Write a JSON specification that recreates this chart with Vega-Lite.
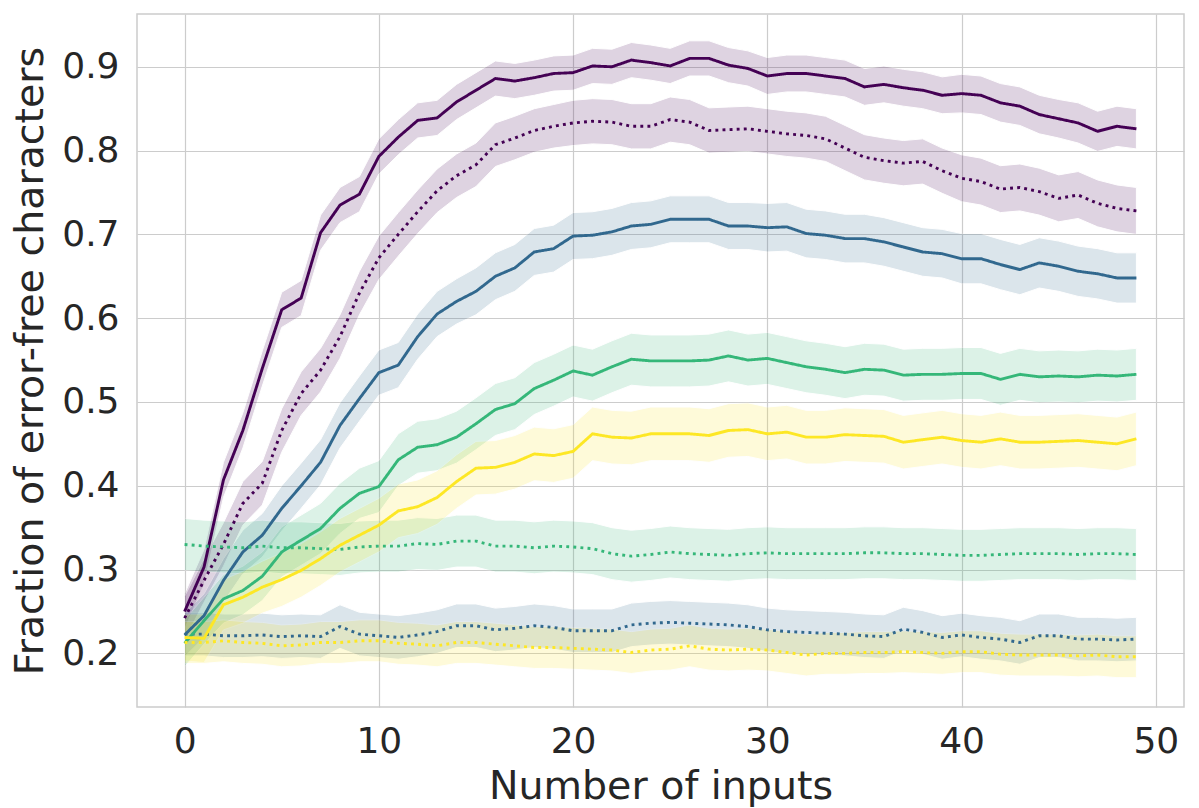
{
  "$schema": "https://vega.github.io/schema/vega-lite/v6.json",
  "autosize": {"type": "none"},
  "padding": {"left": 137, "top": 14, "right": 15, "bottom": 101},
  "width": 1047,
  "height": 693,
  "background": "white",
  "config": {
    "font": "DejaVu Sans",
    "view": {"stroke": "#cccccc", "strokeWidth": 1.5},
    "axis": {
      "grid": true, "gridColor": "#cccccc", "gridWidth": 1.2,
      "domain": false, "ticks": false,
      "labelColor": "#262626", "labelFontSize": 36, "labelFont": "DejaVu Sans",
      "titleColor": "#262626", "titleFontSize": 39.5, "titleFontWeight": "normal", "titleFont": "DejaVu Sans"
    }
  },
  "datasets": {
    "rows": [
      {"g":"1","d":"solid","e":0.021,"x":0,"y":0.250},{"g":"1","d":"solid","e":0.021,"x":1,"y":0.303},{"g":"1","d":"solid","e":0.021,"x":2,"y":0.407},{"g":"1","d":"solid","e":0.021,"x":3,"y":0.466},{"g":"1","d":"solid","e":0.021,"x":4,"y":0.540},{"g":"1","d":"solid","e":0.021,"x":5,"y":0.610},{"g":"1","d":"solid","e":0.021,"x":6,"y":0.624},{"g":"1","d":"solid","e":0.021,"x":7,"y":0.702},{"g":"1","d":"solid","e":0.021,"x":8,"y":0.735},{"g":"1","d":"solid","e":0.021,"x":9,"y":0.748},
      {"g":"1","d":"solid","e":0.021,"x":10,"y":0.793},{"g":"1","d":"solid","e":0.021,"x":11,"y":0.816},{"g":"1","d":"solid","e":0.021,"x":12,"y":0.836},{"g":"1","d":"solid","e":0.021,"x":13,"y":0.839},{"g":"1","d":"solid","e":0.021,"x":14,"y":0.858},{"g":"1","d":"solid","e":0.021,"x":15,"y":0.872},{"g":"1","d":"solid","e":0.021,"x":16,"y":0.886},{"g":"1","d":"solid","e":0.021,"x":17,"y":0.883},{"g":"1","d":"solid","e":0.021,"x":18,"y":0.887},{"g":"1","d":"solid","e":0.021,"x":19,"y":0.892},
      {"g":"1","d":"solid","e":0.021,"x":20,"y":0.893},{"g":"1","d":"solid","e":0.021,"x":21,"y":0.901},{"g":"1","d":"solid","e":0.021,"x":22,"y":0.900},{"g":"1","d":"solid","e":0.021,"x":23,"y":0.908},{"g":"1","d":"solid","e":0.021,"x":24,"y":0.905},{"g":"1","d":"solid","e":0.021,"x":25,"y":0.901},{"g":"1","d":"solid","e":0.021,"x":26,"y":0.910},{"g":"1","d":"solid","e":0.021,"x":27,"y":0.910},{"g":"1","d":"solid","e":0.021,"x":28,"y":0.902},{"g":"1","d":"solid","e":0.021,"x":29,"y":0.898},
      {"g":"1","d":"solid","e":0.022,"x":30,"y":0.889},{"g":"1","d":"solid","e":0.022,"x":31,"y":0.892},{"g":"1","d":"solid","e":0.022,"x":32,"y":0.892},{"g":"1","d":"solid","e":0.022,"x":33,"y":0.889},{"g":"1","d":"solid","e":0.022,"x":34,"y":0.886},{"g":"1","d":"solid","e":0.022,"x":35,"y":0.876},{"g":"1","d":"solid","e":0.022,"x":36,"y":0.879},{"g":"1","d":"solid","e":0.022,"x":37,"y":0.875},{"g":"1","d":"solid","e":0.022,"x":38,"y":0.872},{"g":"1","d":"solid","e":0.022,"x":39,"y":0.866},
      {"g":"1","d":"solid","e":0.023,"x":40,"y":0.868},{"g":"1","d":"solid","e":0.023,"x":41,"y":0.866},{"g":"1","d":"solid","e":0.023,"x":42,"y":0.857},{"g":"1","d":"solid","e":0.023,"x":43,"y":0.853},{"g":"1","d":"solid","e":0.023,"x":44,"y":0.843},{"g":"1","d":"solid","e":0.023,"x":45,"y":0.838},{"g":"1","d":"solid","e":0.024,"x":46,"y":0.833},{"g":"1","d":"solid","e":0.024,"x":47,"y":0.823},{"g":"1","d":"solid","e":0.024,"x":48,"y":0.829},{"g":"1","d":"solid","e":0.024,"x":49,"y":0.826},

      {"g":"1","d":"dotted","e":0.026,"x":0,"y":0.242},{"g":"1","d":"dotted","e":0.026,"x":1,"y":0.287},{"g":"1","d":"dotted","e":0.026,"x":2,"y":0.330},{"g":"1","d":"dotted","e":0.026,"x":3,"y":0.379},{"g":"1","d":"dotted","e":0.026,"x":4,"y":0.403},{"g":"1","d":"dotted","e":0.026,"x":5,"y":0.466},{"g":"1","d":"dotted","e":0.026,"x":6,"y":0.510},{"g":"1","d":"dotted","e":0.026,"x":7,"y":0.538},{"g":"1","d":"dotted","e":0.026,"x":8,"y":0.578},{"g":"1","d":"dotted","e":0.026,"x":9,"y":0.630},
      {"g":"1","d":"dotted","e":0.026,"x":10,"y":0.672},{"g":"1","d":"dotted","e":0.026,"x":11,"y":0.700},{"g":"1","d":"dotted","e":0.026,"x":12,"y":0.727},{"g":"1","d":"dotted","e":0.026,"x":13,"y":0.752},{"g":"1","d":"dotted","e":0.026,"x":14,"y":0.770},{"g":"1","d":"dotted","e":0.026,"x":15,"y":0.783},{"g":"1","d":"dotted","e":0.026,"x":16,"y":0.807},{"g":"1","d":"dotted","e":0.026,"x":17,"y":0.815},{"g":"1","d":"dotted","e":0.026,"x":18,"y":0.824},{"g":"1","d":"dotted","e":0.026,"x":19,"y":0.829},
      {"g":"1","d":"dotted","e":0.027,"x":20,"y":0.833},{"g":"1","d":"dotted","e":0.027,"x":21,"y":0.835},{"g":"1","d":"dotted","e":0.027,"x":22,"y":0.834},{"g":"1","d":"dotted","e":0.027,"x":23,"y":0.829},{"g":"1","d":"dotted","e":0.027,"x":24,"y":0.829},{"g":"1","d":"dotted","e":0.027,"x":25,"y":0.837},{"g":"1","d":"dotted","e":0.027,"x":26,"y":0.834},{"g":"1","d":"dotted","e":0.027,"x":27,"y":0.824},{"g":"1","d":"dotted","e":0.027,"x":28,"y":0.825},{"g":"1","d":"dotted","e":0.027,"x":29,"y":0.826},
      {"g":"1","d":"dotted","e":0.027,"x":30,"y":0.823},{"g":"1","d":"dotted","e":0.027,"x":31,"y":0.820},{"g":"1","d":"dotted","e":0.027,"x":32,"y":0.818},{"g":"1","d":"dotted","e":0.027,"x":33,"y":0.814},{"g":"1","d":"dotted","e":0.027,"x":34,"y":0.803},{"g":"1","d":"dotted","e":0.027,"x":35,"y":0.792},{"g":"1","d":"dotted","e":0.027,"x":36,"y":0.788},{"g":"1","d":"dotted","e":0.027,"x":37,"y":0.785},{"g":"1","d":"dotted","e":0.027,"x":38,"y":0.787},{"g":"1","d":"dotted","e":0.027,"x":39,"y":0.776},
      {"g":"1","d":"dotted","e":0.028,"x":40,"y":0.767},{"g":"1","d":"dotted","e":0.028,"x":41,"y":0.763},{"g":"1","d":"dotted","e":0.028,"x":42,"y":0.754},{"g":"1","d":"dotted","e":0.028,"x":43,"y":0.756},{"g":"1","d":"dotted","e":0.028,"x":44,"y":0.751},{"g":"1","d":"dotted","e":0.028,"x":45,"y":0.743},{"g":"1","d":"dotted","e":0.028,"x":46,"y":0.747},{"g":"1","d":"dotted","e":0.028,"x":47,"y":0.737},{"g":"1","d":"dotted","e":0.028,"x":48,"y":0.731},{"g":"1","d":"dotted","e":0.028,"x":49,"y":0.728},

      {"g":"2","d":"solid","e":0.026,"x":0,"y":0.222},{"g":"2","d":"solid","e":0.026,"x":1,"y":0.245},{"g":"2","d":"solid","e":0.026,"x":2,"y":0.287},{"g":"2","d":"solid","e":0.026,"x":3,"y":0.321},{"g":"2","d":"solid","e":0.026,"x":4,"y":0.341},{"g":"2","d":"solid","e":0.027,"x":5,"y":0.373},{"g":"2","d":"solid","e":0.027,"x":6,"y":0.400},{"g":"2","d":"solid","e":0.027,"x":7,"y":0.428},{"g":"2","d":"solid","e":0.027,"x":8,"y":0.472},{"g":"2","d":"solid","e":0.027,"x":9,"y":0.504},
      {"g":"2","d":"solid","e":0.027,"x":10,"y":0.535},{"g":"2","d":"solid","e":0.027,"x":11,"y":0.544},{"g":"2","d":"solid","e":0.027,"x":12,"y":0.578},{"g":"2","d":"solid","e":0.027,"x":13,"y":0.605},{"g":"2","d":"solid","e":0.027,"x":14,"y":0.620},{"g":"2","d":"solid","e":0.028,"x":15,"y":0.632},{"g":"2","d":"solid","e":0.028,"x":16,"y":0.650},{"g":"2","d":"solid","e":0.028,"x":17,"y":0.660},{"g":"2","d":"solid","e":0.028,"x":18,"y":0.679},{"g":"2","d":"solid","e":0.028,"x":19,"y":0.683},
      {"g":"2","d":"solid","e":0.028,"x":20,"y":0.698},{"g":"2","d":"solid","e":0.028,"x":21,"y":0.699},{"g":"2","d":"solid","e":0.028,"x":22,"y":0.703},{"g":"2","d":"solid","e":0.028,"x":23,"y":0.710},{"g":"2","d":"solid","e":0.028,"x":24,"y":0.712},{"g":"2","d":"solid","e":0.028,"x":25,"y":0.718},{"g":"2","d":"solid","e":0.028,"x":26,"y":0.718},{"g":"2","d":"solid","e":0.028,"x":27,"y":0.718},{"g":"2","d":"solid","e":0.028,"x":28,"y":0.710},{"g":"2","d":"solid","e":0.028,"x":29,"y":0.710},
      {"g":"2","d":"solid","e":0.029,"x":30,"y":0.708},{"g":"2","d":"solid","e":0.029,"x":31,"y":0.709},{"g":"2","d":"solid","e":0.029,"x":32,"y":0.701},{"g":"2","d":"solid","e":0.029,"x":33,"y":0.699},{"g":"2","d":"solid","e":0.029,"x":34,"y":0.695},{"g":"2","d":"solid","e":0.029,"x":35,"y":0.695},{"g":"2","d":"solid","e":0.029,"x":36,"y":0.691},{"g":"2","d":"solid","e":0.029,"x":37,"y":0.685},{"g":"2","d":"solid","e":0.029,"x":38,"y":0.679},{"g":"2","d":"solid","e":0.029,"x":39,"y":0.677},
      {"g":"2","d":"solid","e":0.030,"x":40,"y":0.671},{"g":"2","d":"solid","e":0.030,"x":41,"y":0.671},{"g":"2","d":"solid","e":0.030,"x":42,"y":0.664},{"g":"2","d":"solid","e":0.030,"x":43,"y":0.658},{"g":"2","d":"solid","e":0.030,"x":44,"y":0.666},{"g":"2","d":"solid","e":0.030,"x":45,"y":0.662},{"g":"2","d":"solid","e":0.030,"x":46,"y":0.656},{"g":"2","d":"solid","e":0.030,"x":47,"y":0.653},{"g":"2","d":"solid","e":0.030,"x":48,"y":0.648},{"g":"2","d":"solid","e":0.030,"x":49,"y":0.648},

      {"g":"2","d":"dotted","e":0.026,"x":0,"y":0.223},{"g":"2","d":"dotted","e":0.026,"x":1,"y":0.223},{"g":"2","d":"dotted","e":0.026,"x":2,"y":0.221},{"g":"2","d":"dotted","e":0.026,"x":3,"y":0.221},{"g":"2","d":"dotted","e":0.026,"x":4,"y":0.222},{"g":"2","d":"dotted","e":0.026,"x":5,"y":0.220},{"g":"2","d":"dotted","e":0.026,"x":6,"y":0.221},{"g":"2","d":"dotted","e":0.026,"x":7,"y":0.220},{"g":"2","d":"dotted","e":0.026,"x":8,"y":0.232},{"g":"2","d":"dotted","e":0.026,"x":9,"y":0.223},
      {"g":"2","d":"dotted","e":0.026,"x":10,"y":0.221},{"g":"2","d":"dotted","e":0.026,"x":11,"y":0.219},{"g":"2","d":"dotted","e":0.026,"x":12,"y":0.222},{"g":"2","d":"dotted","e":0.026,"x":13,"y":0.226},{"g":"2","d":"dotted","e":0.026,"x":14,"y":0.233},{"g":"2","d":"dotted","e":0.026,"x":15,"y":0.233},{"g":"2","d":"dotted","e":0.026,"x":16,"y":0.228},{"g":"2","d":"dotted","e":0.026,"x":17,"y":0.230},{"g":"2","d":"dotted","e":0.026,"x":18,"y":0.233},{"g":"2","d":"dotted","e":0.026,"x":19,"y":0.231},
      {"g":"2","d":"dotted","e":0.026,"x":20,"y":0.227},{"g":"2","d":"dotted","e":0.026,"x":21,"y":0.227},{"g":"2","d":"dotted","e":0.026,"x":22,"y":0.227},{"g":"2","d":"dotted","e":0.026,"x":23,"y":0.234},{"g":"2","d":"dotted","e":0.026,"x":24,"y":0.236},{"g":"2","d":"dotted","e":0.026,"x":25,"y":0.237},{"g":"2","d":"dotted","e":0.026,"x":26,"y":0.236},{"g":"2","d":"dotted","e":0.026,"x":27,"y":0.235},{"g":"2","d":"dotted","e":0.026,"x":28,"y":0.234},{"g":"2","d":"dotted","e":0.026,"x":29,"y":0.232},
      {"g":"2","d":"dotted","e":0.026,"x":30,"y":0.228},{"g":"2","d":"dotted","e":0.026,"x":31,"y":0.226},{"g":"2","d":"dotted","e":0.026,"x":32,"y":0.225},{"g":"2","d":"dotted","e":0.026,"x":33,"y":0.224},{"g":"2","d":"dotted","e":0.026,"x":34,"y":0.223},{"g":"2","d":"dotted","e":0.026,"x":35,"y":0.221},{"g":"2","d":"dotted","e":0.026,"x":36,"y":0.220},{"g":"2","d":"dotted","e":0.026,"x":37,"y":0.229},{"g":"2","d":"dotted","e":0.026,"x":38,"y":0.225},{"g":"2","d":"dotted","e":0.026,"x":39,"y":0.219},
      {"g":"2","d":"dotted","e":0.026,"x":40,"y":0.222},{"g":"2","d":"dotted","e":0.026,"x":41,"y":0.219},{"g":"2","d":"dotted","e":0.026,"x":42,"y":0.217},{"g":"2","d":"dotted","e":0.026,"x":43,"y":0.213},{"g":"2","d":"dotted","e":0.026,"x":44,"y":0.221},{"g":"2","d":"dotted","e":0.026,"x":45,"y":0.221},{"g":"2","d":"dotted","e":0.026,"x":46,"y":0.217},{"g":"2","d":"dotted","e":0.026,"x":47,"y":0.217},{"g":"2","d":"dotted","e":0.026,"x":48,"y":0.216},{"g":"2","d":"dotted","e":0.026,"x":49,"y":0.217},

      {"g":"3","d":"solid","e":0.028,"x":0,"y":0.212},{"g":"3","d":"solid","e":0.028,"x":1,"y":0.239},{"g":"3","d":"solid","e":0.029,"x":2,"y":0.265},{"g":"3","d":"solid","e":0.029,"x":3,"y":0.275},{"g":"3","d":"solid","e":0.029,"x":4,"y":0.292},{"g":"3","d":"solid","e":0.030,"x":5,"y":0.321},{"g":"3","d":"solid","e":0.030,"x":6,"y":0.335},{"g":"3","d":"solid","e":0.030,"x":7,"y":0.349},{"g":"3","d":"solid","e":0.030,"x":8,"y":0.373},{"g":"3","d":"solid","e":0.030,"x":9,"y":0.391},
      {"g":"3","d":"solid","e":0.031,"x":10,"y":0.399},{"g":"3","d":"solid","e":0.031,"x":11,"y":0.431},{"g":"3","d":"solid","e":0.031,"x":12,"y":0.446},{"g":"3","d":"solid","e":0.031,"x":13,"y":0.449},{"g":"3","d":"solid","e":0.031,"x":14,"y":0.458},{"g":"3","d":"solid","e":0.031,"x":15,"y":0.474},{"g":"3","d":"solid","e":0.031,"x":16,"y":0.491},{"g":"3","d":"solid","e":0.031,"x":17,"y":0.498},{"g":"3","d":"solid","e":0.031,"x":18,"y":0.516},{"g":"3","d":"solid","e":0.031,"x":19,"y":0.526},
      {"g":"3","d":"solid","e":0.031,"x":20,"y":0.537},{"g":"3","d":"solid","e":0.031,"x":21,"y":0.532},{"g":"3","d":"solid","e":0.031,"x":22,"y":0.542},{"g":"3","d":"solid","e":0.031,"x":23,"y":0.551},{"g":"3","d":"solid","e":0.031,"x":24,"y":0.549},{"g":"3","d":"solid","e":0.031,"x":25,"y":0.549},{"g":"3","d":"solid","e":0.031,"x":26,"y":0.549},{"g":"3","d":"solid","e":0.031,"x":27,"y":0.550},{"g":"3","d":"solid","e":0.031,"x":28,"y":0.555},{"g":"3","d":"solid","e":0.031,"x":29,"y":0.550},
      {"g":"3","d":"solid","e":0.031,"x":30,"y":0.552},{"g":"3","d":"solid","e":0.031,"x":31,"y":0.547},{"g":"3","d":"solid","e":0.031,"x":32,"y":0.542},{"g":"3","d":"solid","e":0.031,"x":33,"y":0.539},{"g":"3","d":"solid","e":0.031,"x":34,"y":0.535},{"g":"3","d":"solid","e":0.031,"x":35,"y":0.539},{"g":"3","d":"solid","e":0.031,"x":36,"y":0.538},{"g":"3","d":"solid","e":0.031,"x":37,"y":0.532},{"g":"3","d":"solid","e":0.031,"x":38,"y":0.533},{"g":"3","d":"solid","e":0.031,"x":39,"y":0.533},
      {"g":"3","d":"solid","e":0.031,"x":40,"y":0.534},{"g":"3","d":"solid","e":0.031,"x":41,"y":0.534},{"g":"3","d":"solid","e":0.031,"x":42,"y":0.527},{"g":"3","d":"solid","e":0.031,"x":43,"y":0.533},{"g":"3","d":"solid","e":0.031,"x":44,"y":0.530},{"g":"3","d":"solid","e":0.031,"x":45,"y":0.531},{"g":"3","d":"solid","e":0.031,"x":46,"y":0.530},{"g":"3","d":"solid","e":0.031,"x":47,"y":0.532},{"g":"3","d":"solid","e":0.031,"x":48,"y":0.531},{"g":"3","d":"solid","e":0.031,"x":49,"y":0.533},

      {"g":"3","d":"dotted","e":0.031,"x":0,"y":0.330},{"g":"3","d":"dotted","e":0.031,"x":1,"y":0.328},{"g":"3","d":"dotted","e":0.031,"x":2,"y":0.327},{"g":"3","d":"dotted","e":0.031,"x":3,"y":0.326},{"g":"3","d":"dotted","e":0.031,"x":4,"y":0.328},{"g":"3","d":"dotted","e":0.031,"x":5,"y":0.326},{"g":"3","d":"dotted","e":0.031,"x":6,"y":0.326},{"g":"3","d":"dotted","e":0.031,"x":7,"y":0.325},{"g":"3","d":"dotted","e":0.031,"x":8,"y":0.324},{"g":"3","d":"dotted","e":0.031,"x":9,"y":0.327},
      {"g":"3","d":"dotted","e":0.031,"x":10,"y":0.328},{"g":"3","d":"dotted","e":0.031,"x":11,"y":0.328},{"g":"3","d":"dotted","e":0.031,"x":12,"y":0.331},{"g":"3","d":"dotted","e":0.031,"x":13,"y":0.330},{"g":"3","d":"dotted","e":0.031,"x":14,"y":0.334},{"g":"3","d":"dotted","e":0.031,"x":15,"y":0.334},{"g":"3","d":"dotted","e":0.031,"x":16,"y":0.328},{"g":"3","d":"dotted","e":0.031,"x":17,"y":0.328},{"g":"3","d":"dotted","e":0.031,"x":18,"y":0.326},{"g":"3","d":"dotted","e":0.031,"x":19,"y":0.328},
      {"g":"3","d":"dotted","e":0.031,"x":20,"y":0.327},{"g":"3","d":"dotted","e":0.031,"x":21,"y":0.325},{"g":"3","d":"dotted","e":0.031,"x":22,"y":0.319},{"g":"3","d":"dotted","e":0.031,"x":23,"y":0.316},{"g":"3","d":"dotted","e":0.031,"x":24,"y":0.318},{"g":"3","d":"dotted","e":0.031,"x":25,"y":0.321},{"g":"3","d":"dotted","e":0.031,"x":26,"y":0.319},{"g":"3","d":"dotted","e":0.031,"x":27,"y":0.318},{"g":"3","d":"dotted","e":0.031,"x":28,"y":0.317},{"g":"3","d":"dotted","e":0.031,"x":29,"y":0.319},
      {"g":"3","d":"dotted","e":0.031,"x":30,"y":0.320},{"g":"3","d":"dotted","e":0.031,"x":31,"y":0.319},{"g":"3","d":"dotted","e":0.031,"x":32,"y":0.319},{"g":"3","d":"dotted","e":0.031,"x":33,"y":0.319},{"g":"3","d":"dotted","e":0.031,"x":34,"y":0.319},{"g":"3","d":"dotted","e":0.031,"x":35,"y":0.320},{"g":"3","d":"dotted","e":0.031,"x":36,"y":0.320},{"g":"3","d":"dotted","e":0.031,"x":37,"y":0.319},{"g":"3","d":"dotted","e":0.031,"x":38,"y":0.319},{"g":"3","d":"dotted","e":0.031,"x":39,"y":0.318},
      {"g":"3","d":"dotted","e":0.031,"x":40,"y":0.317},{"g":"3","d":"dotted","e":0.031,"x":41,"y":0.317},{"g":"3","d":"dotted","e":0.031,"x":42,"y":0.318},{"g":"3","d":"dotted","e":0.031,"x":43,"y":0.319},{"g":"3","d":"dotted","e":0.031,"x":44,"y":0.319},{"g":"3","d":"dotted","e":0.031,"x":45,"y":0.319},{"g":"3","d":"dotted","e":0.031,"x":46,"y":0.318},{"g":"3","d":"dotted","e":0.031,"x":47,"y":0.319},{"g":"3","d":"dotted","e":0.031,"x":48,"y":0.319},{"g":"3","d":"dotted","e":0.031,"x":49,"y":0.318},

      {"g":"4","d":"solid","e":0.028,"x":0,"y":0.219},{"g":"4","d":"solid","e":0.029,"x":1,"y":0.218},{"g":"4","d":"solid","e":0.030,"x":2,"y":0.258},{"g":"4","d":"solid","e":0.031,"x":3,"y":0.267},{"g":"4","d":"solid","e":0.031,"x":4,"y":0.279},{"g":"4","d":"solid","e":0.032,"x":5,"y":0.288},{"g":"4","d":"solid","e":0.032,"x":6,"y":0.299},{"g":"4","d":"solid","e":0.032,"x":7,"y":0.313},{"g":"4","d":"solid","e":0.032,"x":8,"y":0.329},{"g":"4","d":"solid","e":0.032,"x":9,"y":0.341},
      {"g":"4","d":"solid","e":0.032,"x":10,"y":0.353},{"g":"4","d":"solid","e":0.032,"x":11,"y":0.370},{"g":"4","d":"solid","e":0.032,"x":12,"y":0.375},{"g":"4","d":"solid","e":0.032,"x":13,"y":0.386},{"g":"4","d":"solid","e":0.032,"x":14,"y":0.405},{"g":"4","d":"solid","e":0.032,"x":15,"y":0.421},{"g":"4","d":"solid","e":0.032,"x":16,"y":0.422},{"g":"4","d":"solid","e":0.032,"x":17,"y":0.428},{"g":"4","d":"solid","e":0.032,"x":18,"y":0.438},{"g":"4","d":"solid","e":0.032,"x":19,"y":0.436},
      {"g":"4","d":"solid","e":0.032,"x":20,"y":0.441},{"g":"4","d":"solid","e":0.032,"x":21,"y":0.462},{"g":"4","d":"solid","e":0.032,"x":22,"y":0.458},{"g":"4","d":"solid","e":0.032,"x":23,"y":0.457},{"g":"4","d":"solid","e":0.032,"x":24,"y":0.462},{"g":"4","d":"solid","e":0.032,"x":25,"y":0.462},{"g":"4","d":"solid","e":0.032,"x":26,"y":0.462},{"g":"4","d":"solid","e":0.032,"x":27,"y":0.460},{"g":"4","d":"solid","e":0.032,"x":28,"y":0.466},{"g":"4","d":"solid","e":0.032,"x":29,"y":0.467},
      {"g":"4","d":"solid","e":0.032,"x":30,"y":0.462},{"g":"4","d":"solid","e":0.032,"x":31,"y":0.464},{"g":"4","d":"solid","e":0.032,"x":32,"y":0.458},{"g":"4","d":"solid","e":0.032,"x":33,"y":0.458},{"g":"4","d":"solid","e":0.032,"x":34,"y":0.461},{"g":"4","d":"solid","e":0.032,"x":35,"y":0.460},{"g":"4","d":"solid","e":0.032,"x":36,"y":0.459},{"g":"4","d":"solid","e":0.032,"x":37,"y":0.452},{"g":"4","d":"solid","e":0.032,"x":38,"y":0.455},{"g":"4","d":"solid","e":0.032,"x":39,"y":0.458},
      {"g":"4","d":"solid","e":0.032,"x":40,"y":0.454},{"g":"4","d":"solid","e":0.032,"x":41,"y":0.452},{"g":"4","d":"solid","e":0.032,"x":42,"y":0.456},{"g":"4","d":"solid","e":0.032,"x":43,"y":0.452},{"g":"4","d":"solid","e":0.032,"x":44,"y":0.452},{"g":"4","d":"solid","e":0.032,"x":45,"y":0.453},{"g":"4","d":"solid","e":0.032,"x":46,"y":0.454},{"g":"4","d":"solid","e":0.032,"x":47,"y":0.452},{"g":"4","d":"solid","e":0.032,"x":48,"y":0.450},{"g":"4","d":"solid","e":0.032,"x":49,"y":0.456},

      {"g":"4","d":"dotted","e":0.025,"x":0,"y":0.213},{"g":"4","d":"dotted","e":0.025,"x":1,"y":0.213},{"g":"4","d":"dotted","e":0.025,"x":2,"y":0.215},{"g":"4","d":"dotted","e":0.025,"x":3,"y":0.213},{"g":"4","d":"dotted","e":0.025,"x":4,"y":0.212},{"g":"4","d":"dotted","e":0.025,"x":5,"y":0.209},{"g":"4","d":"dotted","e":0.025,"x":6,"y":0.210},{"g":"4","d":"dotted","e":0.025,"x":7,"y":0.213},{"g":"4","d":"dotted","e":0.025,"x":8,"y":0.213},{"g":"4","d":"dotted","e":0.025,"x":9,"y":0.215},
      {"g":"4","d":"dotted","e":0.025,"x":10,"y":0.215},{"g":"4","d":"dotted","e":0.025,"x":11,"y":0.212},{"g":"4","d":"dotted","e":0.025,"x":12,"y":0.211},{"g":"4","d":"dotted","e":0.025,"x":13,"y":0.209},{"g":"4","d":"dotted","e":0.025,"x":14,"y":0.213},{"g":"4","d":"dotted","e":0.025,"x":15,"y":0.213},{"g":"4","d":"dotted","e":0.025,"x":16,"y":0.211},{"g":"4","d":"dotted","e":0.025,"x":17,"y":0.209},{"g":"4","d":"dotted","e":0.025,"x":18,"y":0.207},{"g":"4","d":"dotted","e":0.025,"x":19,"y":0.207},
      {"g":"4","d":"dotted","e":0.025,"x":20,"y":0.206},{"g":"4","d":"dotted","e":0.025,"x":21,"y":0.205},{"g":"4","d":"dotted","e":0.025,"x":22,"y":0.204},{"g":"4","d":"dotted","e":0.025,"x":23,"y":0.201},{"g":"4","d":"dotted","e":0.025,"x":24,"y":0.204},{"g":"4","d":"dotted","e":0.025,"x":25,"y":0.205},{"g":"4","d":"dotted","e":0.025,"x":26,"y":0.209},{"g":"4","d":"dotted","e":0.025,"x":27,"y":0.205},{"g":"4","d":"dotted","e":0.025,"x":28,"y":0.204},{"g":"4","d":"dotted","e":0.025,"x":29,"y":0.205},
      {"g":"4","d":"dotted","e":0.025,"x":30,"y":0.204},{"g":"4","d":"dotted","e":0.025,"x":31,"y":0.201},{"g":"4","d":"dotted","e":0.025,"x":32,"y":0.198},{"g":"4","d":"dotted","e":0.025,"x":33,"y":0.200},{"g":"4","d":"dotted","e":0.025,"x":34,"y":0.200},{"g":"4","d":"dotted","e":0.025,"x":35,"y":0.201},{"g":"4","d":"dotted","e":0.025,"x":36,"y":0.201},{"g":"4","d":"dotted","e":0.025,"x":37,"y":0.202},{"g":"4","d":"dotted","e":0.025,"x":38,"y":0.201},{"g":"4","d":"dotted","e":0.025,"x":39,"y":0.200},
      {"g":"4","d":"dotted","e":0.025,"x":40,"y":0.202},{"g":"4","d":"dotted","e":0.025,"x":41,"y":0.202},{"g":"4","d":"dotted","e":0.025,"x":42,"y":0.199},{"g":"4","d":"dotted","e":0.025,"x":43,"y":0.198},{"g":"4","d":"dotted","e":0.025,"x":44,"y":0.198},{"g":"4","d":"dotted","e":0.025,"x":45,"y":0.198},{"g":"4","d":"dotted","e":0.025,"x":46,"y":0.197},{"g":"4","d":"dotted","e":0.025,"x":47,"y":0.198},{"g":"4","d":"dotted","e":0.025,"x":48,"y":0.196},{"g":"4","d":"dotted","e":0.025,"x":49,"y":0.196}
    ]
  },
  "data": {"name": "rows"},
  "encoding": {
    "x": {"field": "x", "type": "quantitative",
      "scale": {"domain": [-2.45, 51.45], "nice": false, "zero": false},
      "axis": {"title": "Number of inputs", "values": [0, 10, 20, 30, 40, 50], "labelPadding": 17, "titlePadding": 8}},
    "y": {"field": "y", "type": "quantitative", "title": "Fraction of error-free characters",
      "scale": {"domain": [0.136, 0.963], "nice": false, "zero": false},
      "axis": {"values": [0.2, 0.3, 0.4, 0.5, 0.6, 0.7, 0.8, 0.9], "format": ".1f", "labelPadding": 18, "titlePadding": 11}},
    "color": {"field": "g", "type": "nominal", "legend": null,
      "scale": {"domain": ["1", "2", "3", "4"], "range": ["#440154", "#31688e", "#35b779", "#fde725"]}}
  },
  "layer": [
    {
      "mark": {"type": "errorband", "band": {"opacity": 0.17, "stroke": "white", "strokeWidth": 1}},
      "encoding": {
        "yError": {"field": "e"},
        "detail": {"field": "d"}
      }
    },
    {
      "mark": {"type": "line", "strokeWidth": 2.9, "strokeCap": "butt"},
      "encoding": {
        "strokeDash": {"field": "d", "type": "nominal", "legend": null,
          "scale": {"domain": ["solid", "dotted"], "range": [[1, 0], [2.9, 4.2]]}}
      }
    }
  ]
}
